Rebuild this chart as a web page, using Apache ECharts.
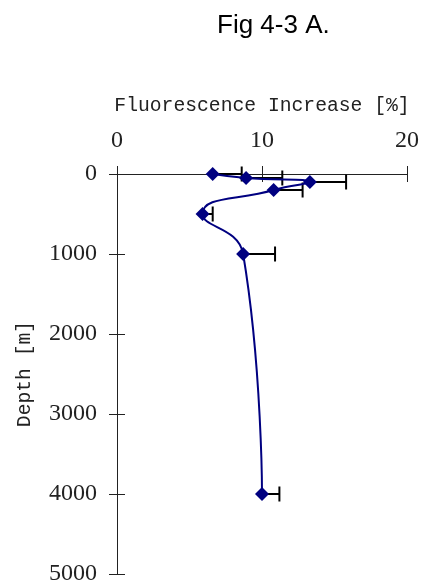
<!DOCTYPE html>
<html>
<head>
<meta charset="utf-8">
<script src="https://cdn.jsdelivr.net/npm/echarts@6/dist/echarts.min.js"></script>
<style>
  html, body { margin: 0; padding: 0; background: #fff; }
  #chart { width: 422px; height: 588px; }
</style>
</head>
<body>
<div id="chart"></div>
<script>
// Sampling depths (m) and mean fluorescence increase (%) with +1 SD
var depths = [0, 50, 100, 200, 500, 1000, 4000];
var increase = [6.6, 8.9, 13.3, 10.8, 5.9, 8.7, 10.0];
var plusError = [2.0, 2.5, 2.5, 2.0, 0.7, 2.2, 1.2];

var xTicks = [0, 10, 20];
var yTicks = [0, 1000, 2000, 3000, 4000, 5000];

var titleText = 'Fig 4-3 A.';
var xName = 'Fluorescence Increase [%]';
var yName = 'Depth [m]';

var serif = '"Liberation Serif", "DejaVu Serif", serif';
var mono = '"Liberation Mono", "DejaVu Sans Mono", monospace';
var axisColor = '#222';

var points = depths.map(function (d, i) { return [increase[i], d]; });
var errData = depths.map(function (d, i) { return [increase[i], d, increase[i] + plusError[i]]; });

var chart = echarts.init(document.getElementById('chart'), null, { renderer: 'canvas' });

function plain(v) { return String(v); }

function baseX(extra) {
  return Object.assign({
    type: 'value', position: 'top', min: xTicks[0], max: xTicks[xTicks.length - 1],
    interval: xTicks[1] - xTicks[0], splitLine: { show: false }
  }, extra);
}
function baseY(extra) {
  return Object.assign({
    type: 'value', inverse: true, min: yTicks[0], max: yTicks[yTicks.length - 1],
    interval: yTicks[1] - yTicks[0], splitLine: { show: false }
  }, extra);
}

chart.setOption({
  animation: false,
  backgroundColor: '#fff',
  title: {
    text: titleText, left: 212, top: 8,
    textStyle: { fontFamily: '"Liberation Sans", Arial, sans-serif', fontSize: 26, fontWeight: 'normal', color: '#000' }
  },
  grid: { left: 117, top: 174, right: 15, bottom: 14, containLabel: false, outerBoundsMode: 'none' },
  xAxis: [
    baseX({
      name: xName, nameLocation: 'middle', nameGap: 58,
      nameTextStyle: { fontFamily: mono, fontSize: 19.7, color: axisColor },
      axisLine: { show: true, lineStyle: { color: axisColor, width: 1 } },
      axisTick: { show: true, inside: false, length: 8, lineStyle: { color: axisColor } },
      axisLabel: { show: true, margin: 21, fontFamily: serif, fontSize: 24, color: axisColor, formatter: plain }
    }),
    baseX({
      axisLine: { show: false },
      axisTick: { show: true, inside: true, length: 8, lineStyle: { color: axisColor } },
      axisLabel: { show: false }
    })
  ],
  yAxis: [
    baseY({
      name: yName, nameLocation: 'middle', nameGap: 82, nameRotate: 90,
      nameTextStyle: { fontFamily: mono, fontSize: 19.7, color: axisColor },
      axisLine: { show: true, lineStyle: { color: axisColor, width: 1 } },
      axisTick: { show: true, inside: false, length: 8, lineStyle: { color: axisColor } },
      axisLabel: { show: true, margin: 20, fontFamily: serif, fontSize: 24, color: axisColor, formatter: plain }
    }),
    baseY({
      position: 'left',
      axisLine: { show: false },
      axisTick: { show: true, inside: true, length: 8, lineStyle: { color: axisColor } },
      axisLabel: { show: false }
    })
  ],
  series: [
    {
      // one-sided (+) error bars with end caps
      type: 'custom',
      xAxisIndex: 0, yAxisIndex: 0,
      z: 1,
      data: errData,
      renderItem: function (params, api) {
        var start = api.coord([api.value(0), api.value(1)]);
        var end = api.coord([api.value(2), api.value(1)]);
        var cap = 7.5;
        var style = { stroke: '#000', lineWidth: 2 };
        return {
          type: 'group',
          children: [
            { type: 'line', shape: { x1: start[0], y1: start[1], x2: end[0], y2: end[1] }, style: style },
            { type: 'line', shape: { x1: end[0], y1: end[1] - cap, x2: end[0], y2: end[1] + cap }, style: style }
          ]
        };
      }
    },
    {
      type: 'line',
      xAxisIndex: 0, yAxisIndex: 0,
      z: 3,
      data: points,
      smooth: 0.5,
      symbol: 'diamond',
      symbolSize: 14,
      lineStyle: { color: '#000080', width: 2 },
      itemStyle: { color: '#000080' }
    }
  ]
});
</script>
</body>
</html>
